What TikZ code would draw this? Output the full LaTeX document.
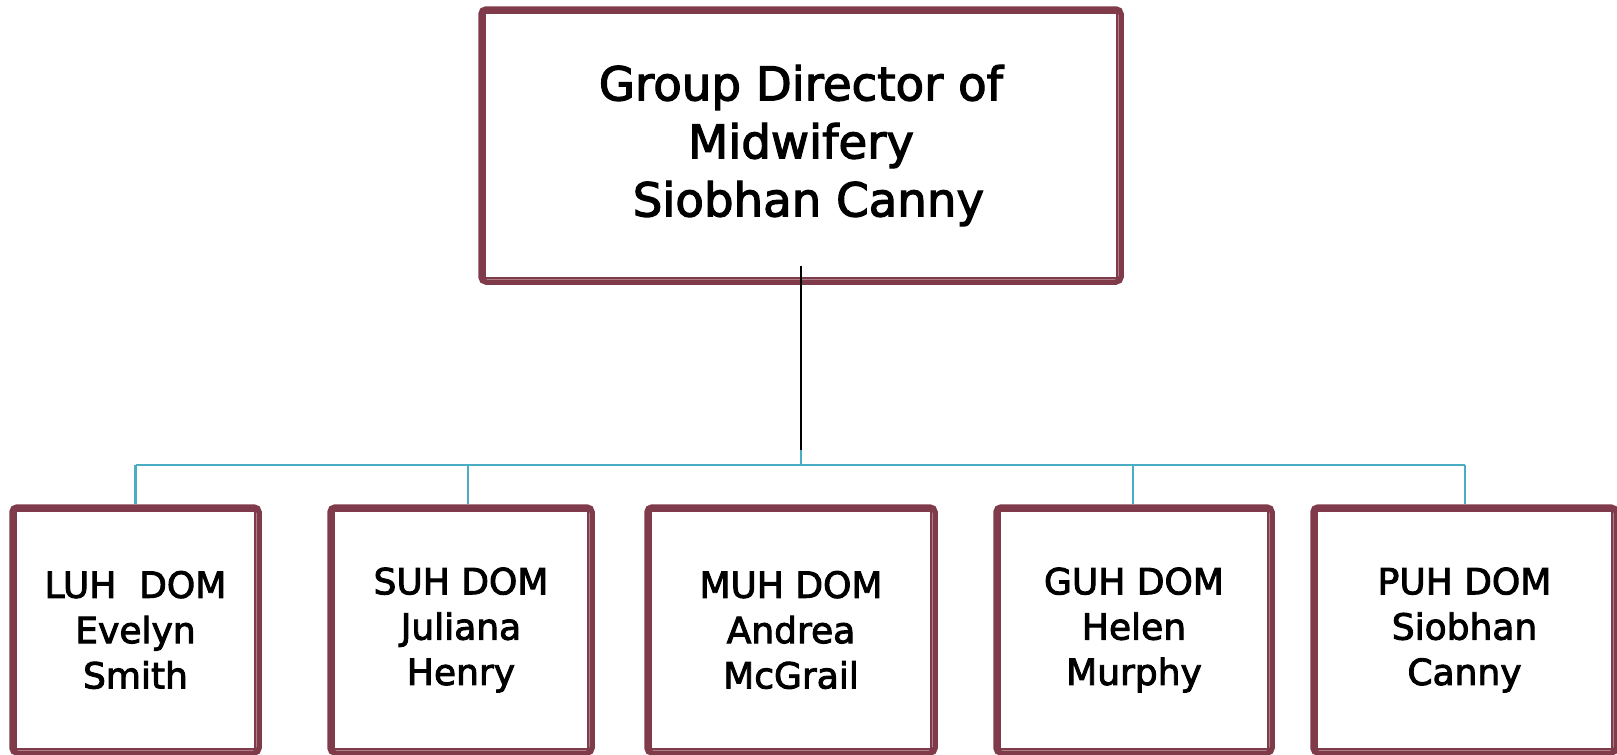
\documentclass[tikz,border=0pt]{standalone}
\usepackage{fontspec}
\setmainfont{DejaVu Sans}
\newfontfamily\boxfont{DejaVu Sans}[FakeBold=2.6]
\definecolor{maroon}{RGB}{128,59,74}
\definecolor{aqua}{RGB}{75,172,198}
\def\px{0.75pt}
\newcommand\innerline[1]{\draw[maroon, line width=1.6*\px] ([shift={(6.5,6.5)}]#1.north west) rectangle ([shift={(-6.5,-6.5)}]#1.south east);}
\begin{document}
\begin{tikzpicture}[x=0.75pt,y=-0.75pt,
  frame/.style={draw=maroon, line width=5.5*\px, rounded corners=5*\px, fill=white, inner sep=0pt, align=center, text=black},
  smallbox/.style={frame, minimum height=246*\px, font=\boxfont\fontsize{27}{34}\selectfont},
  bigbox/.style={frame, font=\boxfont\fontsize{35}{43.5}\selectfont},
  conn/.style={draw=aqua, line width=1.6pt},
  stem/.style={draw=black, line width=1.6pt}]
\useasboundingbox (0,0) rectangle (1617,754);
\fill[white] (0,0) rectangle (1617,754);

\node[bigbox, minimum width=640*\px, minimum height=273*\px] (top) at (801,145.5)
  {Group Director of\\Midwifery\\\ Siobhan Canny};
\innerline{top}

\node[smallbox, minimum width=247*\px] (luh) at (135.5,630) {LUH\ \ DOM\\Evelyn\\Smith};
\node[smallbox, minimum width=262*\px] (suh) at (461,630) {SUH DOM\\Juliana\\Henry};
\node[smallbox, minimum width=288*\px] (muh) at (791,630) {MUH DOM\\Andrea\\McGrail};
\node[smallbox, minimum width=276*\px] (guh) at (1134,630) {GUH DOM\\Helen\\Murphy};
\node[smallbox, minimum width=303*\px] (puh) at (1464.5,630) {PUH DOM\\Siobhan\\Canny};
\foreach \n in {luh,suh,muh,guh,puh} {\innerline{\n}}

\coordinate (hub) at (801,465);
\coordinate (stemend) at (801,450);
\coordinate (jL) at (135.5,465);
\coordinate (jS) at (468,465);
\coordinate (jG) at (1133,465);
\coordinate (jP) at (1465,465);

\draw[conn] (jL) -- (jP);
\draw[conn] (hub) -- (stemend);
\draw[stem] ([yshift=14]top.south) -- (stemend);
\draw[conn] (jL) -- (jL |- luh.north);
\draw[conn] (jS) -- (jS |- suh.north);
\draw[conn] (jG) -- (jG |- guh.north);
\draw[conn] (jP) -- (jP |- puh.north);
\end{tikzpicture}
\end{document}
